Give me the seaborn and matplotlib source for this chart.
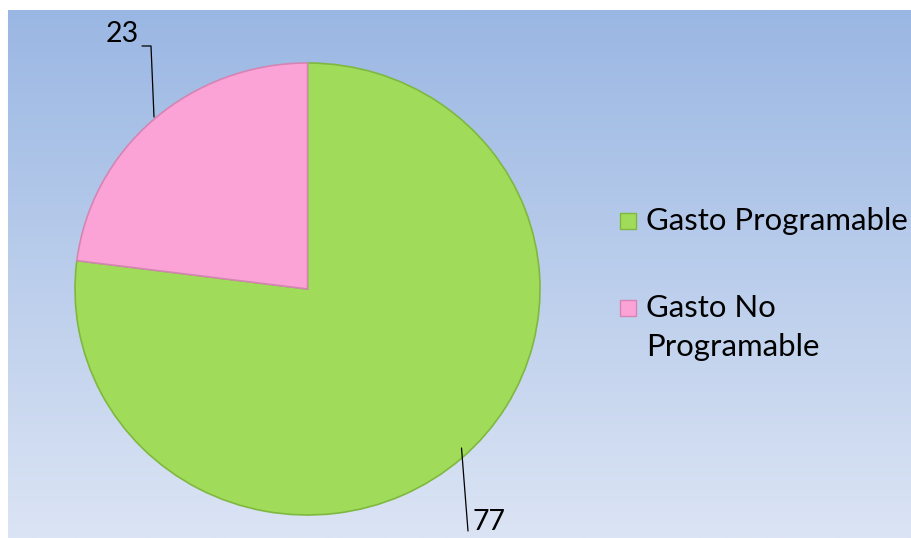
import matplotlib
matplotlib.use("Agg")
import matplotlib.pyplot as plt
import numpy as np
import seaborn as sns
from matplotlib.patches import Rectangle

categories = ["Gasto Programable", "Gasto No Programable"]
legend_lines = [["Gasto Programable"], ["Gasto No", "Programable"]]
values = [77, 23]
colors = ["#A0DC5A", "#FBA3D6"]
edge_colors = ["#7FB83E", "#D585B4"]

sns.set_theme(style="white")
plt.rcParams["font.family"] = ["Lato", "DejaVu Sans"]
plt.rcParams["text.color"] = "black"

W, H = 911, 538
fig = plt.figure(figsize=(W / 100, H / 100), dpi=100)
fig.patch.set_facecolor("white")

# gradient background of the chart area
bg = fig.add_axes([8 / W, 0, 1 - 8 / W, 1 - 10 / H])
top = np.array([154, 183, 227]) / 255
bot = np.array([219, 228, 244]) / 255
t = np.linspace(0, 1, 256)[:, None]
grad = top[None, :] * (1 - t) + bot[None, :] * t
bg.imshow(grad[:, None, :], aspect="auto", extent=[0, 1, 0, 1])
bg.set_axis_off()

# pie axes = bounding box of the (slightly elliptical) pie
cx, cy, rx, ry = 307.5, 289, 232.5, 226
ax = fig.add_axes([(cx - rx) / W, (H - cy - ry) / H, 2 * rx / W, 2 * ry / H])
wedges, _ = ax.pie(values, colors=colors, startangle=90, counterclock=False,
                   radius=1, wedgeprops=dict(linewidth=1.2))
for w, ec in zip(wedges, edge_colors):
    w.set_edgecolor(ec)
ax.set_xlim(-1, 1)
ax.set_ylim(-1, 1)
ax.set_aspect("auto")
ax.set_axis_off()

def px(x, y):
    return (x - cx) / rx, (cy - y) / ry

# data labels with leader lines
lbl_kw = dict(fontsize=20.5, color="black", clip_on=False)
# 23
x0, y0 = px(142, 46); x1, y1 = px(151, 46); x2, y2 = px(154, 117)
ax.plot([x0, x1, x2], [y0, y1, y2], color="black", lw=0.9, clip_on=False)
tx, ty = px(122, 34)
ax.text(tx, ty, str(values[1]), ha="center", va="center", **lbl_kw)
# 77
x0, y0 = px(461.5, 448); x1, y1 = px(468, 531)
ax.plot([x0, x1], [y0, y1], color="black", lw=0.9, clip_on=False)
tx, ty = px(472, 522)
ax.text(tx, ty, str(values[0]), ha="left", va="center", **lbl_kw)

# legend
leg_y = [221, 308]
line_gap = 39
for lines, col, ec, y in zip(legend_lines, colors, edge_colors, leg_y):
    fig.patches.append(Rectangle((620 / W, (H - y - 8) / H), 16 / W, 16 / H,
                                 transform=fig.transFigure, facecolor=col,
                                 edgecolor=ec, lw=1))
    for i, line in enumerate(lines):
        fig.text(646 / W, (H - y - i * line_gap) / H, line, fontsize=22.4,
                 ha="left", va="center", color="black")

fig.savefig("out.png", dpi=100)
